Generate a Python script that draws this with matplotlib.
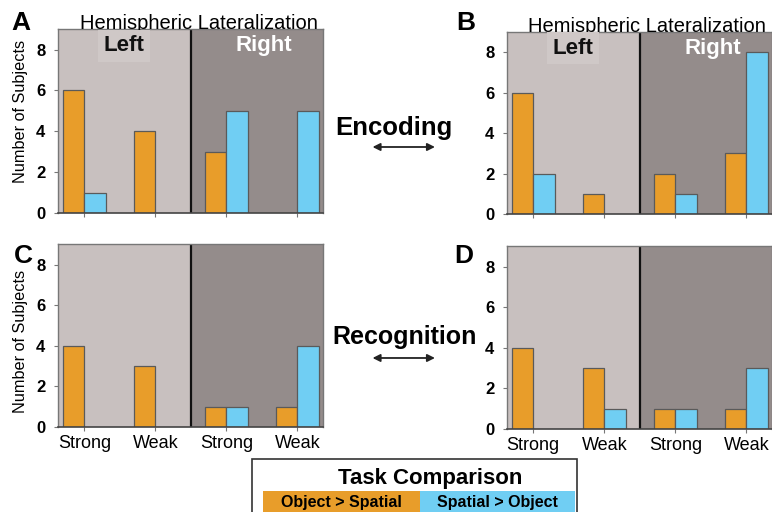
import matplotlib.pyplot as plt
from matplotlib.patches import Rectangle, FancyArrowPatch
import numpy as np

plt.rcParams['font.family'] = ['Liberation Sans', 'DejaVu Sans']

# Data: counts of subjects per lateralization category
categories = ['Strong', 'Weak', 'Strong', 'Weak']
enc_a_obj = [6, 4, 3, 0]
enc_a_spa = [1, 0, 5, 5]
enc_b_obj = [6, 1, 2, 3]
enc_b_spa = [2, 0, 1, 8]
rec_c_obj = [4, 3, 1, 1]
rec_c_spa = [0, 0, 1, 4]
rec_d_obj = [4, 3, 1, 1]
rec_d_spa = [0, 1, 1, 3]

c_obj = '#E89D2A'
c_spa = '#70CEF3'
bg_left = '#C8C0BF'
bg_right = '#948C8B'
edge = '#5A5A5A'

fig = plt.figure(figsize=(7.72, 5.12), dpi=100)
fig.patch.set_facecolor('white')

panels = {
    'A': ([0.0751, 0.584, 0.3433, 0.359], enc_a_obj, enc_a_spa, True, False),
    'B': ([0.6567, 0.582, 0.3433, 0.356], enc_b_obj, enc_b_spa, False, False),
    'C': ([0.0751, 0.166, 0.3433, 0.357], rec_c_obj, rec_c_spa, True, True),
    'D': ([0.6567, 0.162, 0.3433, 0.357], rec_d_obj, rec_d_spa, False, True),
}

x = np.arange(len(categories))
w = 0.3
for name, (rect, obj, spa, ylab, xlab) in panels.items():
    ax = fig.add_axes(rect)
    ax.set_xlim(-0.37, 3.36)
    ax.set_ylim(0, 9)
    ax.axvspan(-0.37, 1.5, color=bg_left, zorder=0, lw=0)
    ax.axvspan(1.5, 3.36, color=bg_right, zorder=0, lw=0)
    ax.axvline(1.5, color='#111111', lw=1.6, zorder=1)
    obj = np.array(obj)
    spa = np.array(spa)
    m = obj > 0
    ax.bar(x[m] - w / 2, obj[m], w, color=c_obj, edgecolor=edge, lw=0.9, zorder=2)
    m = spa > 0
    ax.bar(x[m] + w / 2, spa[m], w, color=c_spa, edgecolor=edge, lw=0.9, zorder=2)
    ax.set_yticks([0, 2, 4, 6, 8])
    ax.set_yticklabels(['0', '2', '4', '6', '8'], fontsize=12, fontweight='bold')
    ax.set_xticks(x)
    if xlab:
        ax.set_xticklabels(categories, fontsize=13)
    else:
        ax.set_xticklabels([])
    ax.tick_params(axis='both', length=3, width=0.8, color='#777777', pad=3)
    ax.tick_params(axis='y', pad=6)
    for s in ['top', 'right', 'left']:
        ax.spines[s].set_color('#777777')
        ax.spines[s].set_linewidth(1.0)
    ax.spines['bottom'].set_color('#444444')
    ax.spines['bottom'].set_linewidth(1.2)
    if ylab:
        ax.text(-0.143, 0.55 if not xlab else 0.47, 'Number of Subjects', transform=ax.transAxes,
                rotation=90, ha='center', va='center', fontsize=11.7)
    if not xlab:
        ax.text(0.53, 1.0, 'Hemispheric Lateralization', transform=ax.transAxes,
                ha='center', va='baseline', fontsize=14.5)
        ax.text(0.25, 0.91, 'Left', transform=ax.transAxes, ha='center', va='center',
                fontsize=16, fontweight='bold', color='#111111',
                bbox=dict(boxstyle='square,pad=0.25', facecolor='#CFC8C7', edgecolor='none'))
        ax.text(0.775, 0.91, 'Right', transform=ax.transAxes, ha='center', va='center',
                fontsize=16, fontweight='bold', color='white')

# Panel letters
fig.text(0.015, 0.955, 'A', fontsize=19, fontweight='bold', va='center')
fig.text(0.591, 0.955, 'B', fontsize=19, fontweight='bold', va='center')
fig.text(0.018, 0.50, 'C', fontsize=19, fontweight='bold', va='center')
fig.text(0.589, 0.50, 'D', fontsize=19, fontweight='bold', va='center')

# Middle labels with double arrows
fig.text(0.5104, 0.75, 'Encoding', fontsize=18.5, fontweight='bold', ha='center', va='center')
fig.text(0.524, 0.342, 'Recognition', fontsize=18, fontweight='bold', ha='center', va='center')
for ya in [0.7129, 0.3008]:
    arr = FancyArrowPatch((0.479, ya), (0.567, ya), transform=fig.transFigure,
                          arrowstyle='<|-|>', mutation_scale=11, lw=1.3, color='#222222')
    fig.patches.append(arr)

# Legend box
fig.patches.append(Rectangle((0.3264, -0.01), 0.421, 0.1135, transform=fig.transFigure,
                             fill=False, edgecolor='#333333', lw=1.2))
fig.patches.append(Rectangle((0.3407, -0.01), 0.2033, 0.051, transform=fig.transFigure,
                             facecolor=c_obj, edgecolor='none'))
fig.patches.append(Rectangle((0.544, -0.01), 0.2008, 0.051, transform=fig.transFigure,
                             facecolor=c_spa, edgecolor='none'))
fig.text(0.557, 0.066, 'Task Comparison', fontsize=16, fontweight='bold', ha='center', va='center')
fig.text(0.4424, 0.019, 'Object > Spatial', fontsize=11.5, fontweight='bold', ha='center', va='center')
fig.text(0.6444, 0.019, 'Spatial > Object', fontsize=11.5, fontweight='bold', ha='center', va='center')

fig.savefig('out.png', dpi=100)
